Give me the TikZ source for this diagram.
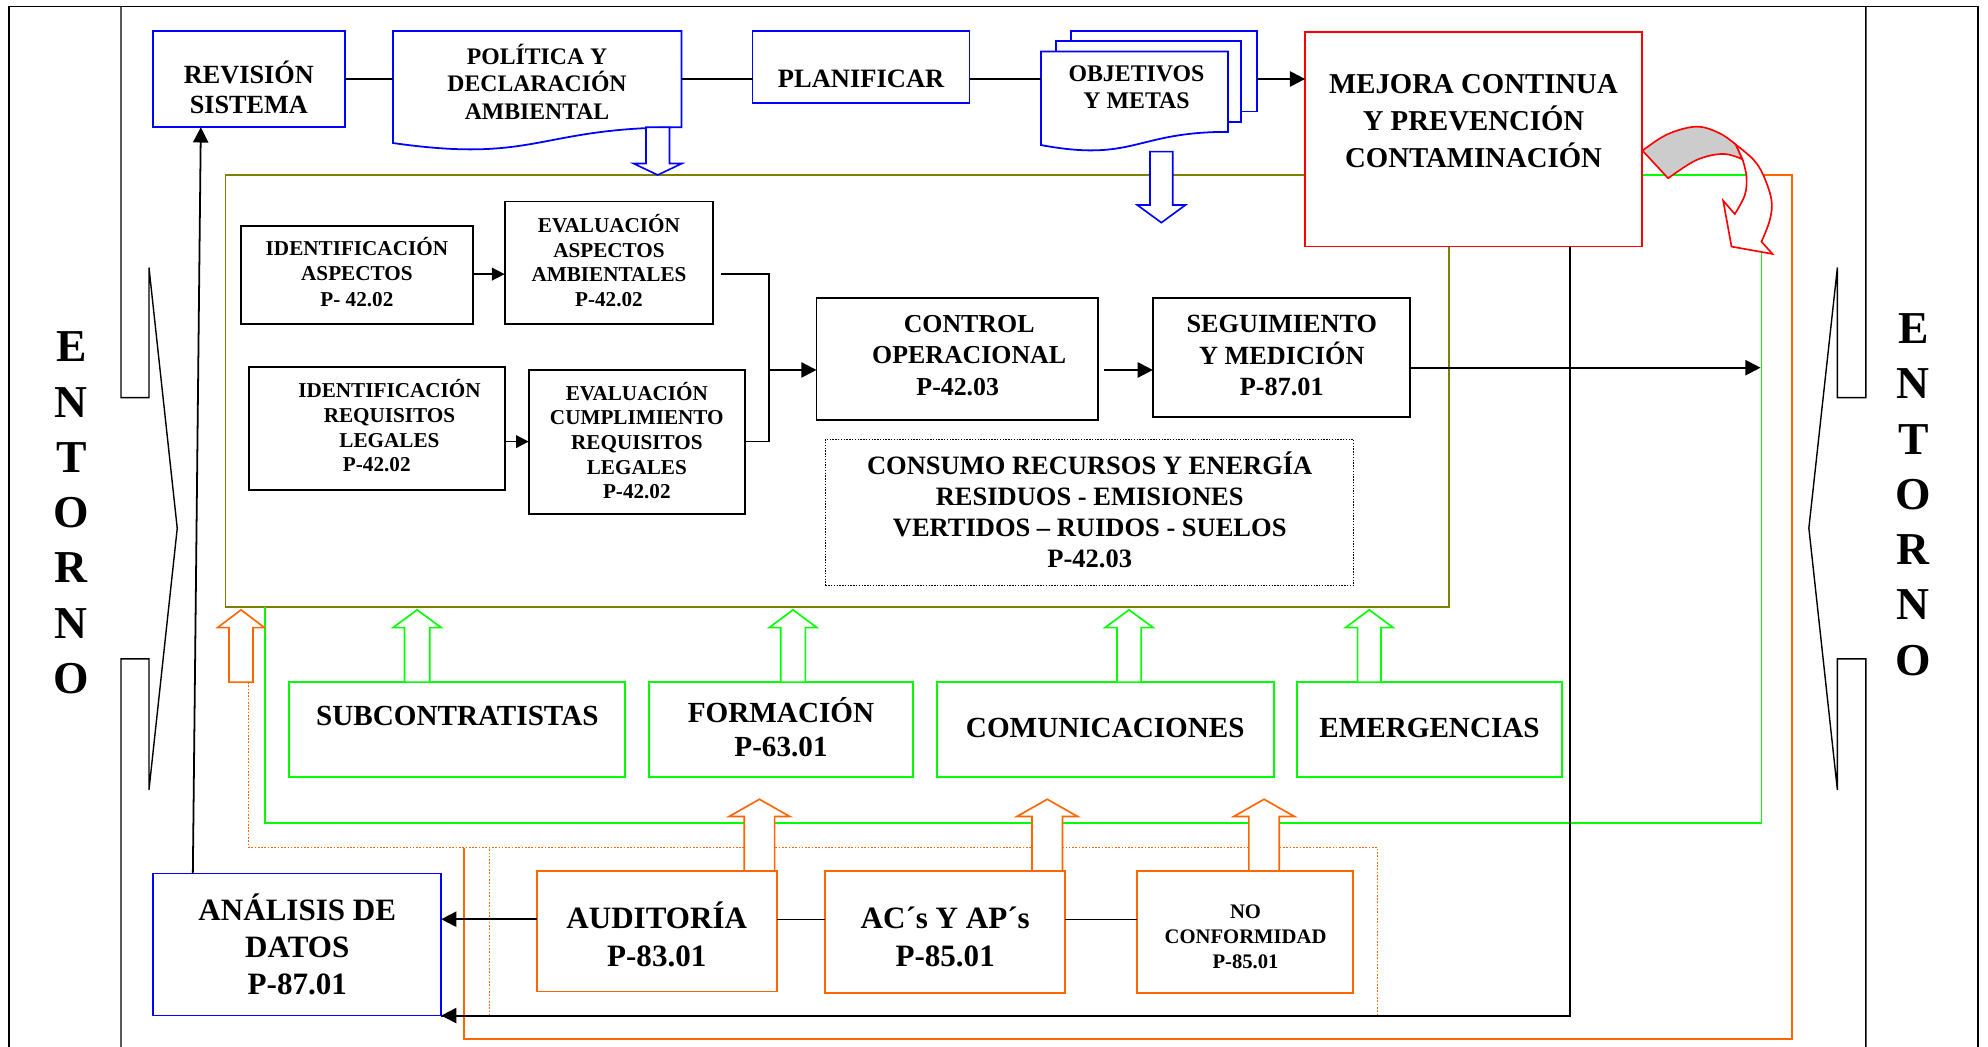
\documentclass[tikz,border=0pt]{standalone}
\usepackage{fontspec}
\setmainfont{Liberation Serif}
\usetikzlibrary{arrows.meta}
\definecolor{cblue}{RGB}{0,0,255}
\definecolor{cred}{RGB}{255,0,0}
\definecolor{cgreen}{RGB}{0,255,0}
\definecolor{corange}{RGB}{255,102,0}
\definecolor{colive}{RGB}{128,128,0}
\definecolor{cgray}{RGB}{204,204,204}
\tikzset{
  bbox/.style={draw=black, line width=1.4pt, fill=white, inner sep=0pt, outer sep=0pt},
  bluebox/.style={bbox, draw=cblue},
  redbox/.style={bbox, draw=cred},
  greenbox/.style={bbox, draw=cgreen, line width=1.6pt},
  orbox/.style={bbox, draw=corange, line width=1.5pt},
  dotbox/.style={bbox, line width=1.1pt, dash pattern=on 1.1pt off 1.1pt},
  olivebox/.style={draw=colive, line width=1.4pt, inner sep=0pt, outer sep=0pt},
  ghost/.style={inner sep=0pt, outer sep=0pt},
  tx/.style={inner sep=0pt, outer sep=0pt, align=center, anchor=north},
  frame/.style={line width=1.1pt, black},
  conn/.style={line width=1.1pt},
  arr/.style={line width=1.6pt, -{Triangle[length=12pt,width=12pt]}},
  sarr/.style={line width=1.3pt, -{Triangle[length=10pt,width=10pt]}},
  gline/.style={cgreen, line width=1.4pt},
  oline/.style={corange, line width=1.4pt},
  odot/.style={corange, line width=1.3pt, dash pattern=on 1.3pt off 1.3pt},
  docline/.style={cblue, line width=1.4pt, fill=white, line join=miter},
}
\newcommand\bx[6]{\node[#6, minimum width={(#4)-(#2)}, minimum height={(#5)-(#3)}] (#1) at ({((#2)+(#4))/2},{((#3)+(#5))/2}) {};}
\newcommand\btext[6]{\node[tx, font=\bfseries\fontsize{#4}{#5}\selectfont] (#1) at ({#2},{(#3)-0.669*(#4)}) {\rule{0pt}{#4pt}#6};}
\newcommand\harrow[7]{\draw[#7, fill=white, line width=1.3pt, miter limit=10] ({#1-#5},#2) -- ({#1-#5},#3) -- ({#1-#6},#3) -- (#1,#4) -- ({#1+#6},#3) -- ({#1+#5},#3) -- ({#1+#5},#2) -- cycle;}
\begin{document}
\begin{tikzpicture}[x=1pt,y=-1pt]
\useasboundingbox (0,0) rectangle (1568,825.7);

% ---------- outer frame ----------
\draw[frame] (7,825.7) -- (7,5.3) -- (1560,5.3) -- (1560,825.7);
\draw[frame] (95.4,5.3) -- (95.4,313.6) -- (117.5,313.6) -- (117.5,211) -- (139.8,416.7) -- (117.5,623) -- (117.5,519.7) -- (95.4,519.7) -- (95.4,825.7);
\draw[frame] (1471.6,5.3) -- (1471.6,313.6) -- (1449.2,313.6) -- (1449.2,211) -- (1426.7,416.5) -- (1449.2,623) -- (1449.2,519.7) -- (1471.6,519.7) -- (1471.6,825.7);

% ---------- reference coordinates ----------
\coordinate (ytop) at (0,62.3);
\coordinate (y216) at (0,216.2);
\coordinate (y292) at (0,291.8);
\coordinate (y290) at (0,290);
\coordinate (y348) at (0,348.3);
\coordinate (y725) at (0,725);
\coordinate (xbl) at (1238.1,0);
\coordinate (g1) at (208.8,478.5);
\coordinate (gR) at (1388.6,290);
\coordinate (jn) at (606.5,291.8);

% ---------- olive frame ----------
\bx{olv}{177.8}{138}{1142.9}{478.5}{olivebox}

% ---------- loops ----------
\draw[gline] (g1) -- (208.8,649.4) -- (1389.3,649.4) -- (1389.3,138) -- (1294.8,138);
\draw[oline] (366.2,668.5) -- (366.2,819.7) -- (1413.5,819.7) -- (1413.5,138) -- (1380,138);
\draw[black, line width=1.5pt] (1238.1,194.5) -- (1238.1,801) -- (348,801);
\draw[odot] (196.1,538) -- (196.1,668.5) -- (1086.5,668.5) -- (1086.5,801) -- (386,801) -- (386,668.5);

% ---------- top row ----------
\bx{rev}{120.4}{24.5}{272.2}{100.4}{bluebox}
\bx{pol}{310}{24.5}{537.6}{100.4}{ghost}
\draw[docline] (537.6,100.4) -- (537.6,24.5) -- (310,24.5) -- (310,112.8) .. controls (423.8,129.1) and (423.8,100.4) .. (537.6,100.4) -- cycle;
\bx{plan}{593.6}{24.5}{764.7}{81.5}{bluebox}
\bx{objb}{844.6}{24.5}{991.4}{88}{bluebox}
\bx{objm}{832.8}{32.3}{979}{96}{bluebox}
\bx{obj}{821}{40.7}{968.5}{104}{ghost}
\draw[docline] (968.5,104) -- (968.5,40.7) -- (821,40.7) -- (821,114.4) .. controls (894.75,128.1) and (894.75,104) .. (968.5,104) -- cycle;
\bx{mej}{1029.4}{25}{1294.8}{194.5}{redbox}

% ---------- inner boxes ----------
\bx{idA}{190}{178}{373}{255.5}{bbox}
\bx{evA}{398}{159}{562.6}{255.5}{bbox}
\bx{idR}{196.5}{289.7}{398.5}{386.5}{bbox}
\bx{evR}{417}{291.8}{587.5}{405.4}{bbox}
\bx{ctrl}{644}{234.8}{865.8}{331.2}{bbox}
\bx{seg}{909.3}{234.8}{1111.8}{329}{bbox}
\bx{cons}{651}{346.5}{1067.4}{462}{dotbox}

% ---------- green boxes ----------
\bx{sub}{228}{538}{493}{613}{greenbox}
\bx{form}{511.5}{538}{720}{613}{greenbox}
\bx{com}{739}{538}{1004.5}{613}{greenbox}
\bx{emer}{1023}{538}{1231.9}{613}{greenbox}

% ---------- bottom boxes ----------
\bx{aud}{423.5}{687}{612.8}{782}{orbox}
\bx{acs}{651}{687}{840}{783}{orbox}
\bx{noc}{897}{687}{1067.4}{783}{orbox}
\bx{ana}{120.8}{689}{348}{801}{bluebox}

% ---------- block arrows ----------
\harrow{518.75}{100.4}{129}{138}{9.25}{19}{cblue}
\harrow{916}{119.6}{161.7}{175.6}{9}{19}{cblue}
\harrow{190.1}{538}{495}{481}{9.5}{18.5}{corange}
\harrow{329}{538}{495}{481}{10}{19}{cgreen}
\harrow{625.5}{538}{495}{481}{9.7}{18.8}{cgreen}
\harrow{890.5}{538}{495}{481}{9.5}{19}{cgreen}
\harrow{1080}{538}{495}{481}{9.2}{18.8}{cgreen}
\harrow{599}{687}{644}{630.4}{12}{24}{corange}
\harrow{826}{687}{644}{630.4}{12}{24}{corange}
\harrow{997}{687}{644}{630.4}{12}{24}{corange}

% ---------- curved arrow ----------
\draw[cred, line width=1.3pt, fill=cgray, line join=round]
  plot[smooth, tension=0.6] coordinates {(1295.5,118.8) (1315,106) (1338.1,99.9) (1356.5,105.2) (1369.1,114.1)}
  -- (1374.4,125.7)
  -- plot[smooth, tension=0.6] coordinates {(1374.4,125.7) (1359.1,121.4) (1338.1,126.2) (1315.7,140.6)}
  -- cycle;
\draw[cred, line width=1.3pt, fill=white, line join=miter]
  plot[smooth, tension=0.6] coordinates {(1369.1,114.1) (1382.8,125.7) (1390.7,138) (1397.2,157.7) (1395.9,173.5) (1389.3,190.6)}
  -- (1398,200.3) -- (1365.7,194.5) -- (1359.1,158.3) -- (1368.3,168.8)
  -- plot[smooth, tension=0.6] coordinates {(1368.3,168.8) (1376.2,153.8) (1377.5,139.3) (1374.4,125.7)}
  -- cycle;

% ---------- texts ----------
\btext{trev}{196.3}{59.3}{20.7}{23.7}{REVISIÓN\\SISTEMA}
\btext{tpol}{423.6}{44.3}{18.7}{21.9}{POLÍTICA Y\\DECLARACIÓN\\AMBIENTAL}
\btext{tplan}{679.2}{62.3}{20.9}{24}{PLANIFICAR}
\btext{tobj}{896.4}{57.8}{18.8}{21.9}{OBJETIVOS\\Y METAS}
\btext{tmej}{1162.2}{66.2}{22.7}{29}{MEJORA CONTINUA\\Y PREVENCIÓN\\CONTAMINACIÓN}
\btext{tidA}{281.5}{195.8}{16.7}{20.2}{IDENTIFICACIÓN\\ASPECTOS\\P- 42.02}
\btext{tevA}{480.3}{177.8}{16.7}{19.5}{EVALUACIÓN\\ASPECTOS\\AMBIENTALES\\P-42.02}
\btext{tidR}{307.2}{308.2}{16.7}{19.5}{IDENTIFICACIÓN\\REQUISITOS\\LEGALES\\P-42.02\hspace*{20pt}}
\btext{tevR}{502.3}{310.2}{16.7}{19.4}{EVALUACIÓN\\CUMPLIMIENTO\\REQUISITOS\\LEGALES\\P-42.02}
\btext{tctrl}{764.4}{255.7}{20.4}{24.6}{CONTROL\\OPERACIONAL\\P-42.03\hspace*{18pt}}
\btext{tseg}{1011}{255.7}{20.7}{24.6}{SEGUIMIENTO\\Y MEDICIÓN\\P-87.01}
\btext{tcons}{859.5}{367.4}{20.9}{24.5}{CONSUMO RECURSOS Y ENERGÍA\\RESIDUOS - EMISIONES\\VERTIDOS – RUIDOS - SUELOS\\P-42.03}
\btext{tsub}{360.7}{564.4}{23}{27.5}{SUBCONTRATISTAS}
\btext{tform}{616}{561.9}{23}{27.5}{FORMACIÓN\\P-63.01}
\btext{tcom}{871.8}{574.2}{23}{27.5}{COMUNICACIONES}
\btext{temer}{1127.5}{574.4}{23}{27.5}{EMERGENCIAS}
\btext{taud}{518}{724.3}{24.5}{29.6}{AUDITORÍA\\P-83.01}
\btext{tacs}{745.5}{724.3}{24.5}{29.6}{AC´s Y AP´s\\P-85.01}
\btext{tnoc}{982.4}{719.4}{16.3}{19.5}{NO\\CONFORMIDAD\\P-85.01}
\btext{tana}{234.5}{718}{24.5}{29.2}{ANÁLISIS DE\\DATOS\\P-87.01}
\btext{tentL}{56.3}{273.4}{36}{43.6}{E\\N\\T\\O\\R\\N\\O}
\btext{tentR}{1509}{259}{36}{43.6}{E\\N\\T\\O\\R\\N\\O}

% ---------- connectors ----------
\draw[conn] (rev.east |- ytop) -- (pol.west |- ytop);
\draw[conn] (pol.east |- ytop) -- (plan.west |- ytop);
\draw[conn] (plan.east |- ytop) -- (obj.west |- ytop);
\draw[arr] (objb.east |- ytop) -- (mej.west |- ytop);
\draw[sarr] (idA.east |- y216) -- (evA.west |- y216);
\draw[conn] ([xshift=6pt]evA.east |- y216) -- (jn |- y216) -- (jn |- y348) -- (evR.east |- y348);
\draw[sarr] (idR.east |- y348) -- (evR.west |- y348);
\draw[arr] (jn) -- (ctrl.west |- y292);
\draw[arr] ([xshift=5pt]ctrl.east |- y292) -- (seg.west |- y292);
\draw[arr] (seg.east |- y290) -- (gR);
\draw[conn] (aud.east |- y725) -- (acs.west |- y725);
\draw[conn] (acs.east |- y725) -- (noc.west |- y725);
\draw[arr] (aud.west |- y725) -- (ana.east |- y725);
\draw[arr, line width=1.5pt] (xbl |- ana.south) -- (ana.south east);
\draw[arr, line width=1.4pt] ([xshift=31.3pt]ana.north west) -- ([xshift=38pt]rev.south west);
\end{tikzpicture}
\end{document}
